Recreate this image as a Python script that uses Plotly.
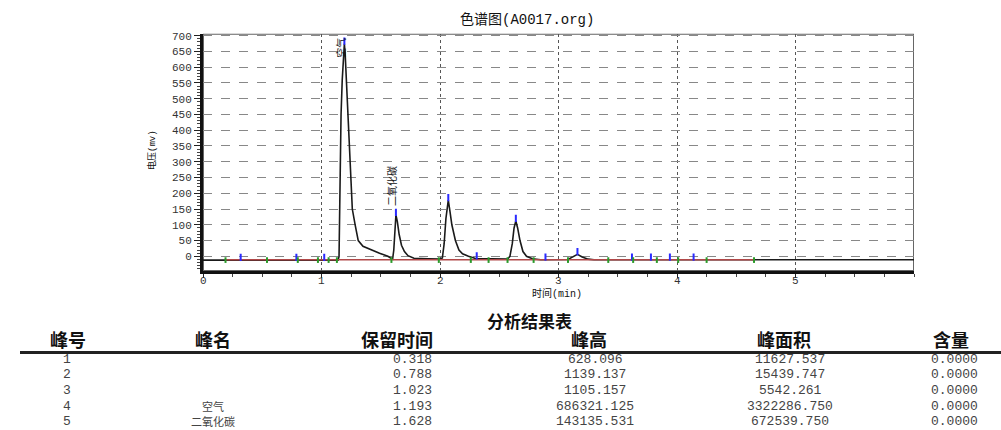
import numpy as np
import plotly.graph_objects as go

W, H = 1001, 430

# ---- chromatogram signal (time in min, voltage in mV) ----
time_min = [0.00, 1.14, 1.148, 1.152, 1.157, 1.165, 1.175, 1.185, 1.193, 1.20, 1.21, 1.225,
            1.236, 1.25, 1.26, 1.284, 1.31, 1.35, 1.41, 1.49, 1.56, 1.60, 1.61, 1.62, 1.628,
            1.64, 1.655, 1.675, 1.70, 1.73, 1.78, 1.90, 2.00, 2.02, 2.035, 2.05, 2.07, 2.085,
            2.10, 2.13, 2.16, 2.19, 2.24, 2.30, 2.57, 2.59, 2.61, 2.625, 2.64, 2.655, 2.675,
            2.70, 2.73, 2.78, 2.85, 3.08, 3.12, 3.16, 3.20, 3.25, 3.30, 6.00]
voltage_mv = [-12, -12, 0, 100, 300, 450, 560, 640, 674.3, 640, 560, 450,
              350, 220, 150, 100, 50, 32, 22, 10, 0, -9, 20, 100, 131.1,
              110, 70, 35, 15, 2, -6, -8, -9, -5, 40, 120, 178, 140,
              100, 50, 20, 8, 0, -7, -9, 0, 40, 90, 112, 90, 50,
              15, 0, -8, -11, -10, -3, 6, -2, -9, -11, -11]

# integration marks
peak_mark_times = [0.318, 0.788, 1.023, 1.193, 1.628, 2.07, 2.31, 2.64, 2.89, 3.16,
                   3.62, 3.78, 3.94, 4.14]
bound_mark_times = [0.19, 0.54, 0.80, 0.97, 1.06, 1.13, 1.59, 1.99, 2.26, 2.41, 2.57,
                    2.79, 3.08, 3.42, 3.63, 3.83, 4.01, 4.25, 4.65]
baseline_start, baseline_end, baseline_level = 0.19, 4.65, -11

# axis ticks
x_ticks = [0, 1, 2, 3, 4, 5]
y_ticks = list(range(0, 701, 50))

# peak name labels on the chart
label_names = ["空气", "二氧化碳"]
label_times = [1.165, 1.59]
label_levels = [662, 224]

# ---- analysis result table ----
col_headers = ["峰号", "峰名", "保留时间", "峰高", "峰面积", "含量"]
peak_no = ["1", "2", "3", "4", "5"]
peak_name = ["", "", "", "空气", "二氧化碳"]
ret_time = ["0.318", "0.788", "1.023", "1.193", "1.628"]
peak_height = ["628.096", "1139.137", "1105.157", "686321.125", "143135.531"]
peak_area = ["11627.537", "15439.747", "5542.261", "3322286.750", "672539.750"]
content = ["0.0000", "0.0000", "0.0000", "0.0000", "0.0000"]

MONO = "Liberation Mono, Noto Sans CJK SC, monospace"
CJK = "Noto Sans CJK SC, sans-serif"


def px(x):
    return x / W


def py(y):
    return 1 - y / H


def note(x, y, text, font, **kw):
    d = dict(x=px(x), y=py(y), xref="paper", yref="paper", text=text, showarrow=False,
             xanchor="center", yanchor="middle", font=font)
    d.update(kw)
    return d


fig = go.Figure()

# signal
fig.add_trace(go.Scatter(x=time_min, y=voltage_mv, mode="lines",
                         line=dict(color="#1a1a1a", width=1.6), hoverinfo="skip"))

# baseline
fig.add_trace(go.Scatter(x=[baseline_start, baseline_end], y=[baseline_level, baseline_level],
                         mode="lines", line=dict(color="#b04848", width=1.6), hoverinfo="skip"))

# peak apex marks (blue) and peak start/end marks (green)
bx, by = [], []
for t in peak_mark_times:
    v = float(np.interp(t, time_min, voltage_mv))
    bx += [t, t, None]
    by += [v - 3, v + 20, None]
fig.add_trace(go.Scatter(x=bx, y=by, mode="lines", line=dict(color="#2a2aff", width=2),
                         hoverinfo="skip"))

gx, gy = [], []
for t in bound_mark_times:
    gx += [t, t, None]
    gy += [-21, -3, None]
fig.add_trace(go.Scatter(x=gx, y=gy, mode="lines", line=dict(color="#2a9a2a", width=2),
                         hoverinfo="skip"))

annotations = []
for name, t, lv in zip(label_names, label_times, label_levels):
    annotations.append(dict(x=t, y=lv, xref="x", yref="y", text=name, showarrow=False,
                            textangle=-90, xanchor="center", yanchor="middle",
                            font=dict(family=CJK, size=10, color="#111")))

# x tick labels, placed close under the axis
for t in x_ticks:
    annotations.append(dict(x=t, y=py(280), xref="x", yref="paper", text=str(t),
                            showarrow=False, xanchor="center", yanchor="middle",
                            font=dict(family=MONO, size=11, color="#333")))

# chart title and axis titles
annotations.append(note(527, 17, "色谱图(A0017.org)", dict(family=MONO, size=14, color="#111")))
annotations.append(note(557, 293, "时间(min)", dict(family=MONO, size=10, color="#111")))
annotations.append(note(152, 148, "电压(mv)", dict(family=MONO, size=9, color="#111"),
                        textangle=-90))

# table title and headers
annotations.append(note(529, 320, "<b>分析结果表</b>", dict(family=CJK, size=17, color="#111")))
header_x = [68, 213, 397, 589, 784, 951]
for hx, ht in zip(header_x, col_headers):
    annotations.append(note(hx, 338, f"<b>{ht}</b>", dict(family=CJK, size=18, color="#111")))

row_y = [359, 374, 390, 406, 421]
col_x = [67, 213, 412, 595, 790, 954]
for i, ry in enumerate(row_y):
    cells = [peak_no[i], peak_name[i], ret_time[i], peak_height[i], peak_area[i], content[i]]
    for cx, txt in zip(col_x, cells):
        if not txt:
            continue
        if cx == col_x[1]:
            font = dict(family=CJK, size=11, color="#444")
        else:
            font = dict(family=MONO, size=13, color="#444")
        annotations.append(note(cx, ry, txt, font))

shapes = [
    # plot frame
    dict(type="rect", xref="x", yref="y", x0=0, x1=6.0, y0=-47, y1=706,
         line=dict(color="#666", width=2), layer="below"),
    # table header rule
    dict(type="line", xref="paper", yref="paper", x0=px(20), x1=1, y0=py(352), y1=py(352),
         line=dict(color="#222", width=3)),
]

fig.update_layout(
    width=W, height=H,
    margin=dict(l=0, r=0, t=0, b=0),
    paper_bgcolor="white", plot_bgcolor="white",
    showlegend=False,
    annotations=annotations,
    shapes=shapes,
    xaxis=dict(domain=[px(203), px(914)], range=[0, 6.0],
               tickmode="array", tickvals=x_ticks, showticklabels=False,
               ticks="outside", ticklen=4, tickcolor="#222", tickwidth=1,
               minor=dict(dtick=0.25, tick0=0, ticks="outside", ticklen=3, tickcolor="#444",
                          showgrid=False),
               showline=True, linecolor="#111", linewidth=3,
               showgrid=True, gridcolor="#555", griddash="dot", gridwidth=1,
               zeroline=False),
    yaxis=dict(domain=[py(270), py(31)], range=[-47, 706],
               tickmode="array", tickvals=y_ticks,
               ticks="outside", ticklen=6, tickcolor="#222", tickwidth=1,
               minor=dict(dtick=10, tick0=0, ticks="outside", ticklen=3, tickcolor="#444",
                          showgrid=False),
               showline=True, linecolor="#111", linewidth=3,
               showgrid=True, gridcolor="#888", griddash="dash", gridwidth=1,
               zeroline=False,
               tickfont=dict(family=MONO, size=11, color="#333")),
)

fig.write_html("out.html")
